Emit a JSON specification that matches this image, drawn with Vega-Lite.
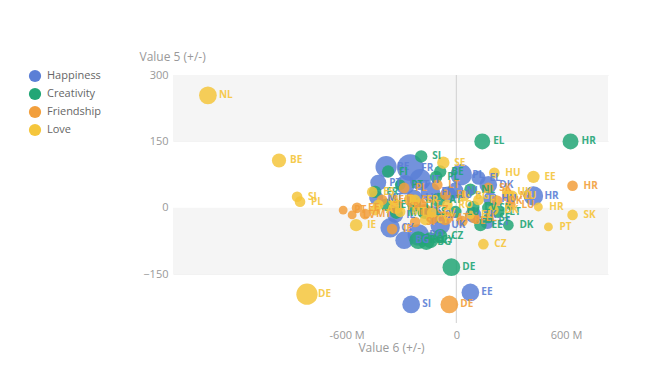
{
  "$schema": "https://vega.github.io/schema/vega-lite/v6.json",
  "width": 435,
  "height": 248,
  "autosize": {"type": "none"},
  "padding": {"left": 173, "top": 75, "right": 48, "bottom": 65},
  "background": "white",
  "config": {"view": {"stroke": null}, "font": "Open Sans"},
  "datasets": {
    "bands": [{"y1": 300, "y2": 150}, {"y1": 0, "y2": -150}],
    "zero": [{"x": 0}],
    "pts": [
      {"series": "Happiness", "c": "HR", "x": 422, "y": 27, "r": 11},
      {"series": "Happiness", "c": "EE", "x": 77, "y": -191, "r": 10},
      {"series": "Happiness", "c": "SI", "x": -247, "y": -218, "r": 10},
      {"series": "Happiness", "c": "PL", "x": 27, "y": 75, "r": 12},
      {"series": "Happiness", "c": "DK", "x": 175, "y": 52, "r": 10},
      {"series": "Happiness", "c": "EL", "x": 121, "y": 68, "r": 8},
      {"series": "Happiness", "c": "NL", "x": -5, "y": 39, "r": 9},
      {"series": "Happiness", "c": "BE", "x": -384, "y": 93, "r": 12},
      {"series": "Happiness", "c": "FR", "x": -252, "y": 91, "r": 15},
      {"series": "Happiness", "c": "IT", "x": -197, "y": 64, "r": 12},
      {"series": "Happiness", "c": "PT", "x": -427, "y": 57, "r": 9},
      {"series": "Happiness", "c": "AT", "x": -279, "y": 52, "r": 11},
      {"series": "Happiness", "c": "FI", "x": -142, "y": 36, "r": 11},
      {"series": "Happiness", "c": "LU", "x": -44, "y": 30, "r": 9},
      {"series": "Happiness", "c": "MT", "x": -438, "y": 23, "r": 8},
      {"series": "Happiness", "c": "LV", "x": -230, "y": 23, "r": 9},
      {"series": "Happiness", "c": "SK", "x": 93, "y": -16, "r": 9},
      {"series": "Happiness", "c": "LT", "x": 170, "y": -32, "r": 8},
      {"series": "Happiness", "c": "CY", "x": -362, "y": -45, "r": 11},
      {"series": "Happiness", "c": "RO", "x": -208, "y": -61, "r": 12},
      {"series": "Happiness", "c": "UK", "x": -88, "y": -39, "r": 11},
      {"series": "Happiness", "c": "CZ", "x": -126, "y": -16, "r": 10},
      {"series": "Happiness", "c": "BG", "x": -285, "y": -73, "r": 10},
      {"series": "Happiness", "c": "IE", "x": -334, "y": -16, "r": 9},
      {"series": "Happiness", "c": "HU", "x": 186, "y": 20, "r": 8},
      {"series": "Creativity", "c": "EL", "x": 142, "y": 150, "r": 9},
      {"series": "Creativity", "c": "HR", "x": 625, "y": 150, "r": 9},
      {"series": "Creativity", "c": "DE", "x": -27, "y": -134, "r": 10},
      {"series": "Creativity", "c": "SI", "x": -192, "y": 116, "r": 7},
      {"series": "Creativity", "c": "DK", "x": 285, "y": -39, "r": 6},
      {"series": "Creativity", "c": "EE", "x": 132, "y": -39, "r": 7},
      {"series": "Creativity", "c": "CY", "x": -142, "y": -73, "r": 9},
      {"series": "Creativity", "c": "PL", "x": -110, "y": 70, "r": 7},
      {"series": "Creativity", "c": "BE", "x": -88, "y": 82, "r": 7},
      {"series": "Creativity", "c": "FI", "x": -373, "y": 82, "r": 7},
      {"series": "Creativity", "c": "PT", "x": -307, "y": 52, "r": 6},
      {"series": "Creativity", "c": "FR", "x": -444, "y": 36, "r": 7},
      {"series": "Creativity", "c": "IT", "x": -230, "y": 7, "r": 8},
      {"series": "Creativity", "c": "ES", "x": -175, "y": -9, "r": 8},
      {"series": "Creativity", "c": "AT", "x": -99, "y": 18, "r": 8},
      {"series": "Creativity", "c": "LU", "x": -5, "y": -9, "r": 7},
      {"series": "Creativity", "c": "SK", "x": 175, "y": 0, "r": 7},
      {"series": "Creativity", "c": "LT", "x": 230, "y": -9, "r": 7},
      {"series": "Creativity", "c": "LV", "x": 93, "y": 2, "r": 7},
      {"series": "Creativity", "c": "NL", "x": 77, "y": 41, "r": 7},
      {"series": "Creativity", "c": "RO", "x": -208, "y": -73, "r": 10},
      {"series": "Creativity", "c": "BG", "x": -164, "y": -77, "r": 9},
      {"series": "Creativity", "c": "MT", "x": -329, "y": -11, "r": 7},
      {"series": "Creativity", "c": "IE", "x": -384, "y": 7, "r": 7},
      {"series": "Creativity", "c": "CZ", "x": -88, "y": -64, "r": 8},
      {"series": "Creativity", "c": "SE", "x": 175, "y": -23, "r": 6},
      {"series": "Friendship", "c": "HR", "x": 636, "y": 50, "r": 6},
      {"series": "Friendship", "c": "DE", "x": -38, "y": -218, "r": 10},
      {"series": "Friendship", "c": "IE", "x": -351, "y": -48, "r": 6},
      {"series": "Friendship", "c": "PT", "x": -619, "y": -5, "r": 5},
      {"series": "Friendship", "c": "LV", "x": -570, "y": -16, "r": 5},
      {"series": "Friendship", "c": "EE", "x": -543, "y": 0, "r": 6},
      {"series": "Friendship", "c": "SK", "x": 175, "y": 45, "r": 6},
      {"series": "Friendship", "c": "NL", "x": 285, "y": 27, "r": 7},
      {"series": "Friendship", "c": "LU", "x": 296, "y": 7, "r": 6},
      {"series": "Friendship", "c": "EL", "x": 99, "y": -23, "r": 6},
      {"series": "Friendship", "c": "FR", "x": -329, "y": 2, "r": 8},
      {"series": "Friendship", "c": "ES", "x": -252, "y": 18, "r": 7},
      {"series": "Friendship", "c": "IT", "x": -197, "y": 7, "r": 7},
      {"series": "Friendship", "c": "CY", "x": -132, "y": -23, "r": 7},
      {"series": "Friendship", "c": "AT", "x": -60, "y": -23, "r": 8},
      {"series": "Friendship", "c": "BE", "x": 33, "y": -30, "r": 6},
      {"series": "Friendship", "c": "SE", "x": -406, "y": 18, "r": 6},
      {"series": "Friendship", "c": "MT", "x": -499, "y": -14, "r": 6},
      {"series": "Friendship", "c": "PL", "x": -285, "y": 45, "r": 6},
      {"series": "Friendship", "c": "FI", "x": -60, "y": 30, "r": 6},
      {"series": "Friendship", "c": "CZ", "x": -170, "y": -5, "r": 7},
      {"series": "Friendship", "c": "SI", "x": -225, "y": -32, "r": 6},
      {"series": "Friendship", "c": "DK", "x": 225, "y": 16, "r": 6},
      {"series": "Friendship", "c": "LT", "x": -104, "y": 52, "r": 6},
      {"series": "Love", "c": "NL", "x": -1359, "y": 254, "r": 10},
      {"series": "Love", "c": "BE", "x": -970, "y": 107, "r": 8},
      {"series": "Love", "c": "SI", "x": -871, "y": 25, "r": 6},
      {"series": "Love", "c": "PL", "x": -855, "y": 14, "r": 6},
      {"series": "Love", "c": "IE", "x": -548, "y": -39, "r": 7},
      {"series": "Love", "c": "DE", "x": -817, "y": -195, "r": 12},
      {"series": "Love", "c": "SE", "x": -71, "y": 102, "r": 7},
      {"series": "Love", "c": "HU", "x": 208, "y": 79, "r": 6},
      {"series": "Love", "c": "EE", "x": 422, "y": 70, "r": 7},
      {"series": "Love", "c": "SK", "x": 636, "y": -16, "r": 6},
      {"series": "Love", "c": "PT", "x": 504, "y": -43, "r": 5},
      {"series": "Love", "c": "CZ", "x": 148, "y": -82, "r": 6},
      {"series": "Love", "c": "HR", "x": 449, "y": 2, "r": 5},
      {"series": "Love", "c": "LU", "x": 307, "y": 27, "r": 6},
      {"series": "Love", "c": "UK", "x": 274, "y": 36, "r": 5},
      {"series": "Love", "c": "FI", "x": 121, "y": 18, "r": 6},
      {"series": "Love", "c": "BG", "x": 44, "y": 27, "r": 6},
      {"series": "Love", "c": "LT", "x": -427, "y": 7, "r": 6},
      {"series": "Love", "c": "ES", "x": -460, "y": 36, "r": 6},
      {"series": "Love", "c": "AT", "x": -444, "y": -5, "r": 6},
      {"series": "Love", "c": "IT", "x": -345, "y": 18, "r": 6},
      {"series": "Love", "c": "FR", "x": -225, "y": 18, "r": 6},
      {"series": "Love", "c": "LV", "x": -132, "y": -11, "r": 6},
      {"series": "Love", "c": "RO", "x": -49, "y": 7, "r": 6},
      {"series": "Love", "c": "DK", "x": 203, "y": -5, "r": 6},
      {"series": "Love", "c": "EL", "x": 77, "y": -16, "r": 5},
      {"series": "Love", "c": "MT", "x": -307, "y": -9, "r": 6},
      {"series": "Love", "c": "CY", "x": -170, "y": -27, "r": 6}
    ]
  },
  "layer": [
    {
      "data": {"name": "bands"},
      "mark": {"type": "rect", "color": "#f5f5f5"},
      "encoding": {
        "y": {
          "field": "y1", "type": "quantitative",
          "scale": {"domain": [-260, 300], "nice": false, "zero": false},
          "axis": {
            "values": [300, 150, 0, -150],
            "title": "Value 5 (+/-)",
            "titleAngle": 0, "titleAlign": "left", "titleBaseline": "middle",
            "titleX": -34, "titleY": -19,
            "titleColor": "#999", "titleFontSize": 12, "titleFontWeight": "normal",
            "grid": true, "gridColor": {"expr": "datum.value === 0 ? '#dddddd' : '#f0f0f0'"},
            "domain": false, "ticks": false,
            "labelColor": "#999", "labelFontSize": 11, "labelPadding": 5
          }
        },
        "y2": {"field": "y2"}
      }
    },
    {
      "data": {"name": "zero"},
      "mark": {"type": "rule", "color": "#d0d0d0", "strokeWidth": 1},
      "encoding": {
        "x": {
          "field": "x", "type": "quantitative",
          "scale": {"domain": [-1550, 830], "nice": false, "zero": false},
          "axis": {
            "values": [-600, 0, 600],
            "labelExpr": "datum.value == 0 ? '0' : datum.value + ' M'",
            "title": "Value 6 (+/-)",
            "grid": false, "domain": false, "ticks": false,
            "labelColor": "#999", "labelFontSize": 11, "labelPadding": 6,
            "titleColor": "#999", "titleFontSize": 12, "titleFontWeight": "normal",
            "titlePadding": 2, "titleX": 218
          }
        }
      }
    },
    {
      "data": {"name": "pts"},
      "mark": {"type": "circle", "opacity": 0.85},
      "encoding": {
        "x": {"field": "x", "type": "quantitative", "title": "Value 6 (+/-)"},
        "y": {"field": "y", "type": "quantitative", "title": "Value 5 (+/-)"},
        "color": {
          "field": "series", "type": "nominal",
          "scale": {"domain": ["Happiness", "Creativity", "Friendship", "Love"], "range": ["#5b7fd6", "#22a676", "#f29f3c", "#f5c63c"]},
          "legend": {
            "orient": "none", "legendX": -145, "legendY": -6, "title": null,
            "symbolType": "circle", "symbolSize": 150, "symbolOpacity": 1,
            "labelFontSize": 11, "labelColor": "#666", "rowPadding": 4, "labelOffset": 5
          }
        },
        "size": {
          "field": "r", "type": "quantitative",
          "scale": {"type": "pow", "exponent": 2, "domain": [0, 15], "range": [0, 707]},
          "legend": null
        }
      }
    },
    {
      "data": {"name": "pts"},
      "mark": {"type": "text", "align": "left", "baseline": "middle", "fontWeight": "bold", "fontSize": 10, "opacity": 0.9, "dx": 11},
      "encoding": {
        "x": {"field": "x", "type": "quantitative", "title": "Value 6 (+/-)"},
        "y": {"field": "y", "type": "quantitative", "title": "Value 5 (+/-)"},
        "text": {"field": "c"},
        "color": {"field": "series", "type": "nominal", "legend": null}
      }
    }
  ]
}
